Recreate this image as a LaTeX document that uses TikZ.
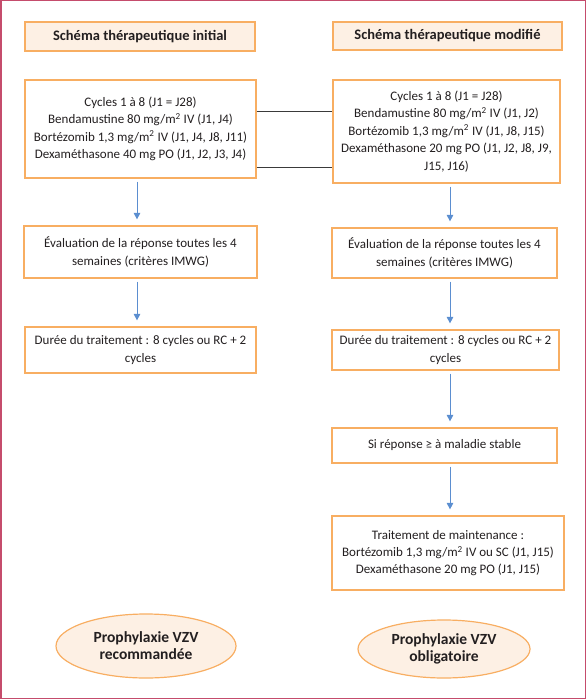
\documentclass[tikz,border=0pt]{standalone}
\usepackage{fontspec}
\setmainfont{Carlito}
\usetikzlibrary{arrows.meta,shapes.geometric}
\definecolor{frameC}{HTML}{C54C6C}
\definecolor{orangeC}{HTML}{F8AE62}
\definecolor{peachC}{HTML}{FDF0E4}
\definecolor{blueC}{HTML}{5B8ED0}
\definecolor{lineC}{HTML}{3A3A3A}
\definecolor{textC}{HTML}{231F20}
\tikzset{
  box/.style={draw=orangeC, line width=1.2pt, fill=white, align=center, inner sep=0pt,
    font=\fontsize{13}{17.4}\selectfont, text=textC},
  titlebox/.style={box, fill=peachC, font=\bfseries\fontsize{14.5}{17}\selectfont},
  oval/.style={ellipse, draw=orangeC, line width=1.2pt, fill=peachC, align=center, inner sep=0pt,
    font=\bfseries\fontsize{15.5}{17}\selectfont, text=textC},
  arr/.style={draw=blueC, line width=0.9pt, -{Triangle[width=6.5pt,length=6.5pt]}, shorten <=3pt, shorten >=6pt},
  link/.style={draw=lineC, line width=0.8pt}
}
\begin{document}
\begin{tikzpicture}[x=1pt,y=-1pt]
\useasboundingbox (0,0) rectangle (587,700);
\draw[frameC, line width=1.5pt] (0.75,0.75) rectangle (585.5,698.5);
% left column
\node[titlebox, minimum width=230pt, minimum height=29pt] (T1) at (140,36.5) {Schéma thérapeutique initial};
\node[box, minimum width=231pt, minimum height=98pt] (B1) at (140.5,129) {Cycles 1 à 8 (J1 = J28)\\Bendamustine 80 mg/m\textsuperscript{2} IV (J1, J4)\\Bortézomib 1,3 mg/m\textsuperscript{2} IV (J1, J4, J8, J11)\\Dexaméthasone 40 mg PO (J1, J2, J3, J4)};
\node[box, minimum width=233pt, minimum height=52pt] (B2) at (140.5,252) {Évaluation de la réponse toutes les 4\\semaines (critères IMWG)};
\node[box, minimum width=231pt, minimum height=46pt] (B3) at (140.5,350) {Durée du traitement : 8 cycles ou RC + 2\\cycles};
\node[oval, minimum width=180pt, minimum height=64pt] (E1) at (146,646) {Prophylaxie VZV\\recommandée};
% right column
\node[titlebox, minimum width=229pt, minimum height=28pt] (T2) at (447.5,36) {Schéma thérapeutique modifié};
\node[box, minimum width=227pt, minimum height=103pt] (R1) at (446.5,131.5) {Cycles 1 à 8 (J1 = J28)\\Bendamustine 80 mg/m\textsuperscript{2} IV (J1, J2)\\Bortézomib 1,3 mg/m\textsuperscript{2} IV (J1, J8, J15)\\Dexaméthasone 20 mg PO (J1, J2, J8, J9,\\J15, J16)};
\node[box, minimum width=225pt, minimum height=50pt] (R2) at (444.5,253) {Évaluation de la réponse toutes les 4\\semaines (critères IMWG)};
\node[box, minimum width=227pt, minimum height=40pt] (R3) at (445.5,350) {Durée du traitement : 8 cycles ou RC + 2\\cycles};
\node[box, minimum width=225pt, minimum height=35pt] (R4) at (444.5,445.5) {Si réponse ≥ à maladie stable};
\node[box, minimum width=232pt, minimum height=74pt] (R5) at (448,553) {Traitement de maintenance :\\Bortézomib 1,3 mg/m\textsuperscript{2} IV ou SC (J1, J15)\\Dexaméthasone 20 mg PO (J1, J15)};
\node[oval, minimum width=172pt, minimum height=58pt] (E2) at (444,649) {Prophylaxie VZV\\obligatoire};
% connectors
\coordinate (la) at (137,0);
\coordinate (ra) at (450,0);
\coordinate (c1) at (0,111);
\coordinate (c2) at (0,167);
\draw[link] (B1.east |- c1) -- (R1.west |- c1);
\draw[link] (B1.east |- c2) -- (R1.west |- c2);
\draw[arr] (B1.south -| la) -- (B2.north -| la);
\draw[arr] (B2.south -| la) -- (B3.north -| la);
\draw[arr] (R1.south -| ra) -- (R2.north -| ra);
\draw[arr] (R2.south -| ra) -- (R3.north -| ra);
\draw[arr] (R3.south -| ra) -- (R4.north -| ra);
\draw[arr] (R4.south -| ra) -- (R5.north -| ra);
\end{tikzpicture}
\end{document}
